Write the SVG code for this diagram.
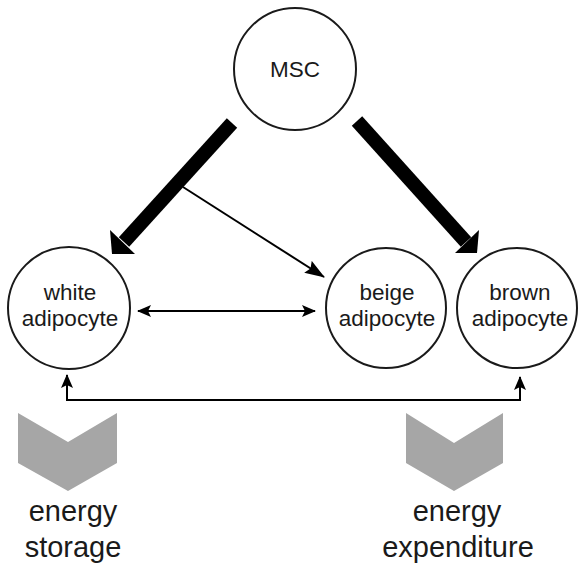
<svg xmlns="http://www.w3.org/2000/svg" width="578" height="563" viewBox="0 0 578 563">
<style>
.node{fill:#fff;stroke:#1a1a1a;stroke-width:2}
.lbl{font-family:"Liberation Sans",Arial,sans-serif;font-size:22.5px;fill:#1a1a1a;text-anchor:middle}
.big{font-family:"Liberation Sans",Arial,sans-serif;font-size:29px;fill:#1a1a1a;text-anchor:middle}
.thin{stroke:#000;stroke-width:2;fill:none}
.thick{stroke:#000;stroke-width:14;fill:none}
.chev{fill:#a6a6a6}
</style>
<defs>
<marker id="ahs" markerWidth="14" markerHeight="12" refX="13" refY="6" orient="auto-start-reverse" markerUnits="userSpaceOnUse" viewBox="0 0 14 12">
<path d="M0,0 L14,6 L0,12 L3,6 Z" fill="#000"/>
</marker>
<marker id="ahb" markerWidth="20" markerHeight="14" refX="19" refY="7" orient="auto" markerUnits="userSpaceOnUse" viewBox="0 0 20 14">
<path d="M0,0 L20,7 L0,14 L3,7 Z" fill="#000"/>
</marker>
</defs>
<g id="connectors">
<line class="thick" x1="232" y1="123" x2="124" y2="242"/>
<polygon points="112,254 110,230 135,254" fill="#000"/>
<line class="thick" x1="357" y1="121" x2="466" y2="242"/>
<polygon points="477,253 455,253 479,230" fill="#000"/>
<line class="thin" x1="183" y1="187" x2="324" y2="277" marker-end="url(#ahb)"/>
<line class="thin" x1="138" y1="311" x2="315" y2="311" marker-start="url(#ahs)" marker-end="url(#ahs)"/>
<polyline class="thin" points="67,375 67,400 520,400 520,377" marker-start="url(#ahs)" marker-end="url(#ahs)"/>
</g>
<g id="msc">
<circle class="node" cx="295" cy="69" r="61"/>
<text class="lbl" x="295" y="77">MSC</text>
</g>
<g id="white">
<circle class="node" cx="69" cy="308" r="61"/>
<text class="lbl" x="70" y="300">white</text>
<text class="lbl" x="70" y="326">adipocyte</text>
</g>
<g id="beige">
<circle class="node" cx="386" cy="308" r="60"/>
<text class="lbl" x="387" y="300">beige</text>
<text class="lbl" x="387" y="326">adipocyte</text>
</g>
<g id="brown">
<circle class="node" cx="517" cy="308" r="60"/>
<text class="lbl" x="520" y="300">brown</text>
<text class="lbl" x="520" y="326">adipocyte</text>
</g>
<g id="storage">
<polygon class="chev" points="18,413 68,442 117,413 117,463 68,491 18,463"/>
<text class="big" x="73" y="521">energy</text>
<text class="big" x="73" y="557">storage</text>
</g>
<g id="expenditure">
<polygon class="chev" points="406,413 454,443 503,413 503,463 454,491 406,463"/>
<text class="big" x="457" y="521">energy</text>
<text class="big" x="458" y="557">expenditure</text>
</g>
</svg>
